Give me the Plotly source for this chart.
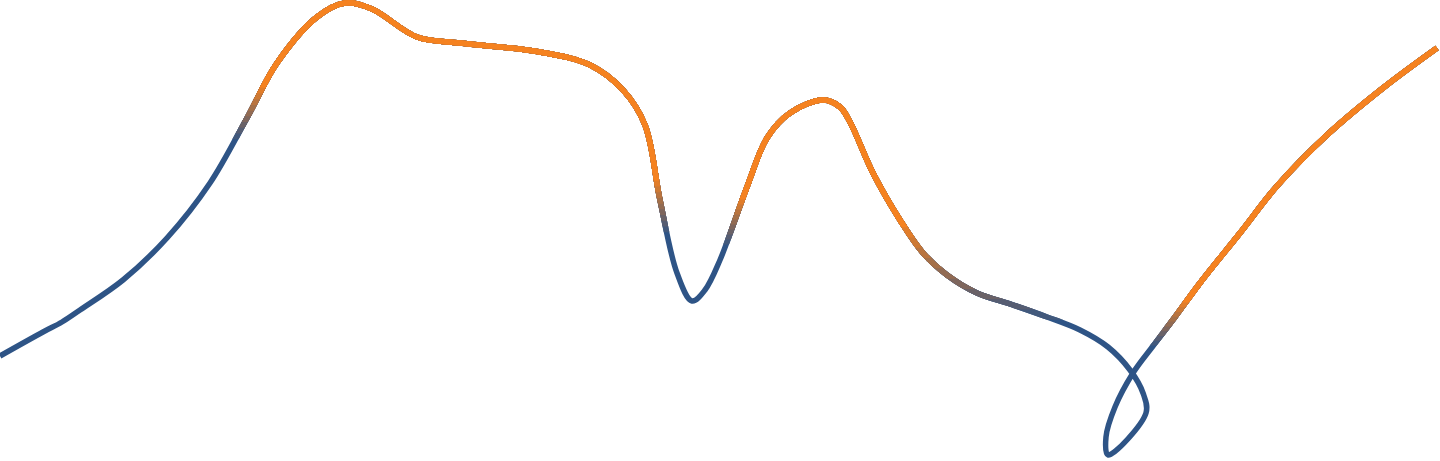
import plotly.graph_objects as go

# ---- data ----
x_vals = [0, 43, 62, 80, 123, 167, 210, 247, 277, 317, 345, 372, 417, 460, 540, 590, 623, 645, 660,
          677, 692, 705, 720, 747, 767, 790, 823, 840, 850, 873, 900, 923, 947, 977, 1013, 1047,
          1080, 1108, 1130, 1143, 1146, 1108, 1106, 1115, 1133, 1153, 1175, 1200, 1240, 1277,
          1327, 1383, 1437]
y_px = [356, 332, 322, 310, 280, 238, 183, 118, 63, 17, 3, 9, 37, 43, 52, 65, 90, 125, 200,
        273, 301, 290, 260, 187, 138, 113, 100, 107, 122, 173, 220, 253, 275, 293, 305, 317,
        330, 347, 370, 393, 413, 455, 437, 407, 373, 346, 317, 283, 233, 186,
        135, 88, 48]
H = 461
W = 1440
y_vals = [H - v for v in y_px]

# ---- style ----
BLUE = (46, 84, 134)
ORANGE = (245, 130, 32)
LW = 5.5
N = 10
# colour zones: (x0, x1, y pixel fully blue, y pixel fully orange)
zones = [
    (0, 500, 142, 85),
    (500, 692, 235, 178),
    (692, 830, 247, 197),
    (830, 1112, 325, 222),
    (1112, 1440, 348, 300),
]


def mix(f):
    r = round(BLUE[0] + (ORANGE[0] - BLUE[0]) * f)
    g = round(BLUE[1] + (ORANGE[1] - BLUE[1]) * f)
    b = round(BLUE[2] + (ORANGE[2] - BLUE[2]) * f)
    return f"rgb({r},{g},{b})"


fig = go.Figure()
fig.add_trace(go.Scatter(x=x_vals, y=y_vals, mode="lines",
                         line=dict(color=mix(0), width=LW, shape="spline", smoothing=1.0),
                         hoverinfo="skip", showlegend=False))

layout = dict(
    width=W, height=H,
    margin=dict(l=0, r=0, t=0, b=0),
    paper_bgcolor="white", plot_bgcolor="rgba(0,0,0,0)",
    showlegend=False,
    xaxis=dict(range=[0, W], visible=False, fixedrange=True, domain=[0, 1]),
    yaxis=dict(range=[0, H], visible=False, fixedrange=True, domain=[0, 1]),
)

k = 2
for (x0, x1, tb, to) in zones:
    for j in range(1, N + 1):
        t = tb - (j - 0.5) / N * (tb - to)
        xa, ya = f"x{k}", f"y{k}"
        fig.add_trace(go.Scatter(x=x_vals, y=y_vals, mode="lines", xaxis=xa, yaxis=ya,
                                 line=dict(color=mix(j / N), width=LW, shape="spline", smoothing=1.0),
                                 hoverinfo="skip", showlegend=False))
        layout[f"xaxis{k}"] = dict(range=[x0, x1], domain=[x0 / W, x1 / W], visible=False,
                                   fixedrange=True, anchor=ya)
        layout[f"yaxis{k}"] = dict(range=[H - t, H], domain=[(H - t) / H, 1], visible=False,
                                   fixedrange=True, anchor=xa)
        k += 1

fig.update_layout(**layout)
fig.write_html("out.html", config={"displayModeBar": False, "staticPlot": True},
               post_script="document.body.style.margin='0';document.body.style.overflow='hidden';")
